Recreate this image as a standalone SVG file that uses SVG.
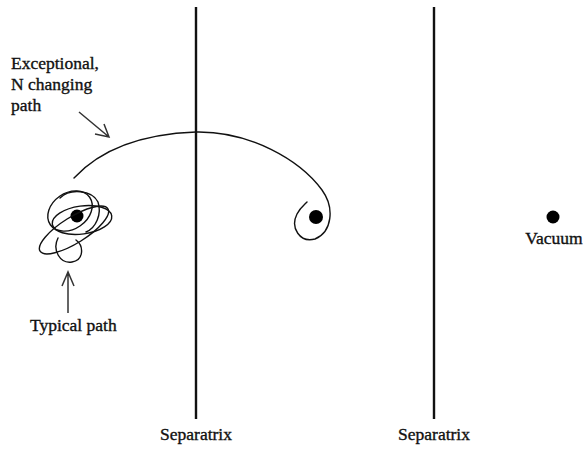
<svg xmlns="http://www.w3.org/2000/svg" width="585" height="449" viewBox="0 0 585 449">
<style>
text{font-family:"Liberation Serif","Times New Roman",serif;font-size:17.5px;fill:#111;stroke:#111;stroke-width:0.35}
.sep{stroke:#111;stroke-width:2.4;fill:none}
.path{stroke:#111;stroke-width:1.4;fill:none;stroke-linecap:round;stroke-linejoin:round}
.arr{stroke:#333;stroke-width:1.5;fill:none}
.dot{fill:#000}
</style>
<rect width="585" height="449" fill="#fff"/>
<g id="separatrix1">
<line class="sep" x1="196" y1="7" x2="196" y2="419"/>
<text x="196" y="440" text-anchor="middle">Separatrix</text>
</g>
<g id="separatrix2">
<line class="sep" x1="434" y1="7" x2="434" y2="419"/>
<text x="434" y="440" text-anchor="middle">Separatrix</text>
</g>
<g id="state1">
<circle class="dot" cx="77" cy="216" r="6.5"/>
<g class="path">
<ellipse cx="70" cy="211" rx="24" ry="18" transform="rotate(-35 70 211)"/>
<ellipse cx="74" cy="230" rx="40" ry="13" transform="rotate(-32 74 230)"/>
<ellipse cx="82" cy="220" rx="30" ry="14" transform="rotate(-8 82 220)"/>
<path d="M58,238 C52,250 60,264 72,262 C84,260 84,246 76,240"/>
<path d="M60,198 C70,188 92,190 98,202 C102,214 96,228 86,232"/>
</g>
</g>
<g id="state2">
<circle class="dot" cx="316" cy="217" r="7"/>
</g>
<g id="vacuum">
<circle class="dot" cx="553" cy="217" r="6.5"/>
<text x="554" y="244" text-anchor="middle">Vacuum</text>
</g>
<g id="exceptional-label">
<text x="11" y="69">Exceptional,</text>
<text x="11" y="90">N changing</text>
<text x="11" y="111">path</text>
</g>
<g id="typical-label">
<text x="30" y="331">Typical path</text>
</g>
<g id="connectors">
<path class="path" d="M74,178 C100,150 140,134 196,132 C250,131 300,160 322,190 C335,208 332,232 315,239 C300,243 290,228 297,214 C300,208 304,205 307,202"/>
<path class="arr" d="M79,112 L109,137 M95,134 L109,137 L104,124"/>
<path class="arr" d="M68,272 L68,313 M62,286 L68,272 L74,286"/>
</g>
</svg>
